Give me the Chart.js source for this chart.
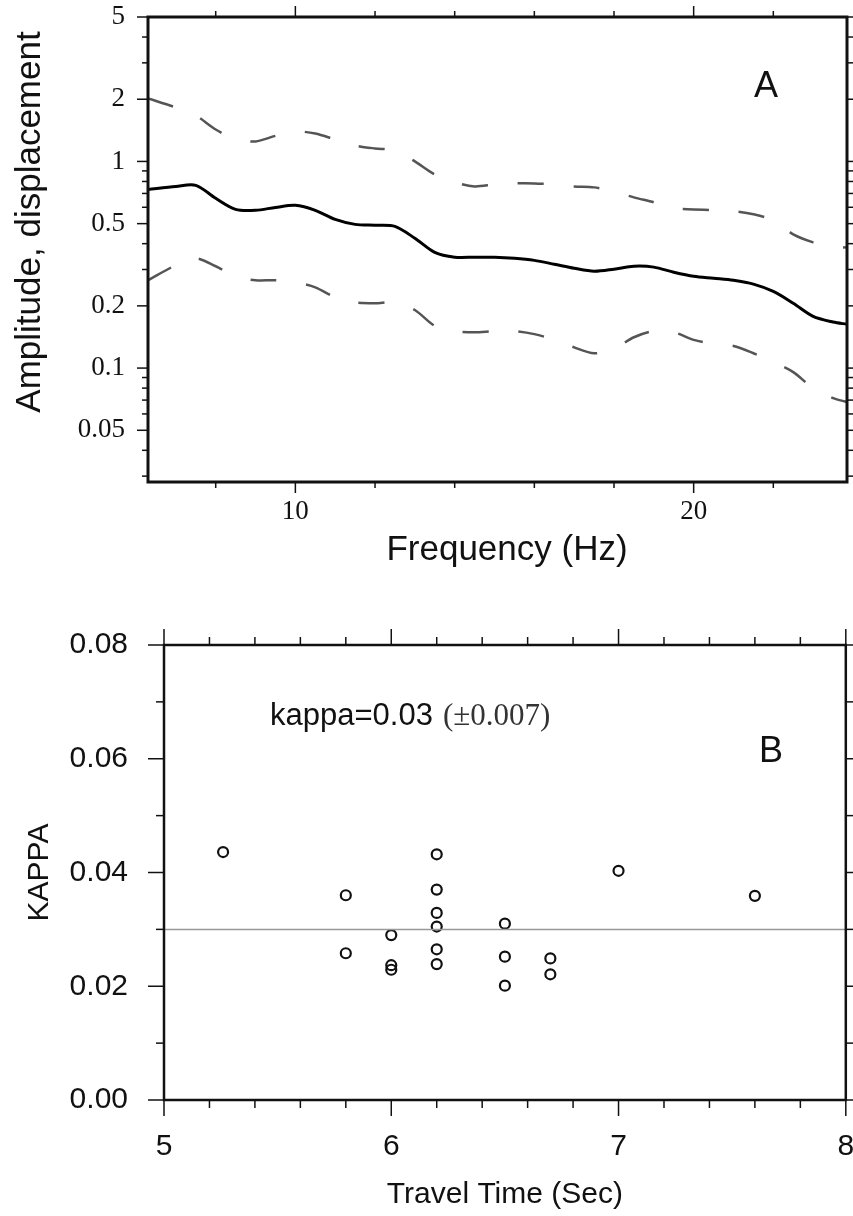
<!DOCTYPE html>
<html>
<head>
<meta charset="utf-8">
<script src="https://cdn.jsdelivr.net/npm/chart.js@4.4.1/dist/chart.umd.min.js"></script>
<style>
  body { margin: 0; background: #fff; }
  .wrap { position: relative; width: 853px; height: 1216px; }
  #chartA { position: absolute; left: 0; top: 0; }
  #chartB { position: absolute; left: 0; top: 590px; }
</style>
</head>
<body>
<div class="wrap">
  <canvas id="chartA" width="853" height="590"></canvas>
  <canvas id="chartB" width="853" height="626"></canvas>
</div>
<script>
// A: spectral amplitude vs frequency
const freqHz = [6.3, 7, 7.5, 8, 8.5, 9, 9.5, 10, 10.5, 11, 11.5, 12, 12.5, 13, 13.5, 14, 14.5, 15,
  15.5, 16, 16.5, 17, 17.5, 18, 18.5, 19, 19.5, 20, 20.5, 21, 21.5, 22, 22.5, 23, 23.5, 23.85]
const meanAmp = [0.732, 0.757, 0.766, 0.663, 0.586, 0.580, 0.599, 0.613, 0.580, 0.524, 0.496, 0.491,
  0.485, 0.425, 0.363, 0.344, 0.344, 0.344, 0.340, 0.332, 0.318, 0.304, 0.294, 0.301, 0.311, 0.308,
  0.291, 0.278, 0.272, 0.266, 0.255, 0.235, 0.206, 0.178, 0.167, 0.163]
const upperAmp = [2.015, 1.824, 1.668, 1.428, 1.28, 1.25, 1.33, 1.396, 1.365, 1.277, 1.195, 1.156,
  1.130, 1.0, 0.865, 0.792, 0.757, 0.774, 0.783, 0.783, 0.774, 0.757, 0.749, 0.716, 0.670, 0.634,
  0.593, 0.586, 0.580, 0.574, 0.555, 0.519, 0.444, 0.406, 0.384, 0.384]
const lowerAmp = [0.266, 0.315, 0.340, 0.311, 0.278, 0.266, 0.266, 0.260, 0.246, 0.220, 0.208, 0.206,
  0.208, 0.191, 0.160, 0.151, 0.149, 0.151, 0.151, 0.146, 0.137, 0.126, 0.118, 0.124, 0.141, 0.151,
  0.149, 0.137, 0.131, 0.128, 0.118, 0.107, 0.0956, 0.080, 0.0716, 0.0685]

const freqMajor = [10, 20]
const freqMinor = [8, 12, 14, 16, 18, 22]
const ampMajor = [0.05, 0.1, 0.2, 0.5, 1, 2, 5]
const ampMinor = [0.03, 0.04, 0.06, 0.07, 0.08, 0.09, 0.3, 0.4, 0.6, 0.7, 0.8, 0.9, 3, 4]

// B: kappa vs travel time
const travelTime = [5.26, 5.8, 5.8, 6.0, 6.0, 6.0, 6.2, 6.2, 6.2, 6.2, 6.2, 6.2, 6.5, 6.5, 6.5, 6.7, 6.7, 7.0, 7.6]
const kappa = [0.0436, 0.036, 0.0258, 0.029, 0.0237, 0.0229, 0.0432, 0.037, 0.0329, 0.0305, 0.0265,
  0.0239, 0.031, 0.0252, 0.0201, 0.0249, 0.0221, 0.0403, 0.0359]
const kappaMean = 0.03

const timeMajor = [5, 6, 7, 8]
const timeMinor = [5.2, 5.4, 5.6, 5.8, 6.2, 6.4, 6.6, 6.8, 7.2, 7.4, 7.6, 7.8]
const kappaMajor = [0, 0.02, 0.04, 0.06, 0.08]
const kappaMinor = [0.01, 0.03, 0.05, 0.07]

const SANS = 'Liberation Sans'
const SERIF = 'Liberation Serif'

const toXY = (xs, ys) => xs.map((x, i) => ({ x: x, y: ys[i] }))

// frame + tick marks on all four sides
const frameTicks = {
  id: 'frameTicks',
  afterDraw(chart, args, o) {
    const { ctx, chartArea: a, scales: { x, y } } = chart
    const seg = (x1, y1, x2, y2) => { ctx.beginPath(); ctx.moveTo(x1, y1); ctx.lineTo(x2, y2); ctx.stroke() }
    ctx.save()
    ctx.strokeStyle = '#111'
    ctx.lineWidth = o.tickWidth
    const xt = (vals, len) => vals.forEach(v => {
      const p = x.getPixelForValue(v)
      seg(p, a.bottom, p, a.bottom + len)
      seg(p, a.top, p, a.top - len)
    })
    const yt = (vals, len) => vals.forEach(v => {
      const p = y.getPixelForValue(v)
      seg(a.left, p, a.left - len, p)
      seg(a.right, p, a.right + len, p)
    })
    xt(o.xMajor, o.major); xt(o.xMinor, o.minor)
    yt(o.yMajor, o.major); yt(o.yMinor, o.minor)
    ctx.lineWidth = o.frameWidth
    ctx.strokeRect(a.left, a.top, a.right - a.left, a.bottom - a.top)
    ctx.restore()
  }
}

// free text on the canvas
const notes = {
  id: 'notes',
  afterDraw(chart, args, o) {
    const ctx = chart.ctx
    o.items.forEach(t => {
      ctx.save()
      ctx.font = t.size + 'px "' + t.family + '"'
      ctx.fillStyle = t.color || '#111'
      ctx.textAlign = t.align || 'center'
      ctx.textBaseline = t.baseline || 'middle'
      ctx.translate(t.x, t.y)
      if (t.rotate) ctx.rotate(t.rotate)
      ctx.fillText(t.text, 0, 0)
      ctx.restore()
    })
  }
}

const fixTicks = list => scale => { scale.ticks = list.map(v => ({ value: v })) }
const noPad = s => { s.paddingLeft = 0; s.paddingRight = 0; s.paddingTop = 0; s.paddingBottom = 0 }

new Chart(document.getElementById('chartA'), {
  type: 'line',
  data: {
    datasets: [
      { data: toXY(freqHz, upperAmp), borderColor: '#555', borderWidth: 2.5, borderDash: [26, 30], pointRadius: 0, tension: 0.3 },
      { data: toXY(freqHz, meanAmp), borderColor: '#000', borderWidth: 3, pointRadius: 0, tension: 0.3 },
      { data: toXY(freqHz, lowerAmp), borderColor: '#555', borderWidth: 2.5, borderDash: [26, 30], pointRadius: 0, tension: 0.3 }
    ]
  },
  options: {
    responsive: false,
    animation: false,
    layout: { padding: { top: 17, right: 6, left: 0, bottom: 0 } },
    plugins: {
      legend: { display: false },
      tooltip: { enabled: false },
      frameTicks: { xMajor: freqMajor, xMinor: freqMinor, yMajor: ampMajor, yMinor: ampMinor, major: 11, minor: 6, tickWidth: 1.5, frameWidth: 3 },
      notes: {
        items: [
          { text: 'Amplitude, displacement', x: 30, y: 222, size: 35, family: SANS, rotate: -Math.PI / 2 },
          { text: 'Frequency (Hz)', x: 507, y: 550, size: 35, family: SANS },
          { text: 'A', x: 766, y: 87, size: 36, family: SANS }
        ]
      }
    },
    scales: {
      x: {
        type: 'linear', min: 6.3, max: 23.85,
        grid: { display: false, drawTicks: false }, border: { display: false },
        afterBuildTicks: fixTicks(freqMajor),
        afterFit: s => { s.height = 108; noPad(s) },
        ticks: { font: { family: SERIF, size: 27 }, color: '#111', padding: 14, autoSkip: false, maxRotation: 0, callback: v => String(v) }
      },
      y: {
        type: 'logarithmic', min: 0.0281, max: 5,
        grid: { display: false, drawTicks: false }, border: { display: false },
        afterBuildTicks: fixTicks(ampMajor),
        afterFit: s => { s.width = 148; noPad(s) },
        ticks: { font: { family: SERIF, size: 27 }, color: '#111', padding: 23, autoSkip: false, callback: v => String(v) }
      }
    }
  },
  plugins: [frameTicks, notes]
})

new Chart(document.getElementById('chartB'), {
  type: 'scatter',
  data: {
    datasets: [
      { type: 'line', data: [{ x: 5, y: kappaMean }, { x: 8, y: kappaMean }], borderColor: '#999', borderWidth: 1.5, pointRadius: 0 },
      { data: toXY(travelTime, kappa), pointStyle: 'circle', pointRadius: 5, borderWidth: 2.2, borderColor: '#111', backgroundColor: 'rgba(255,255,255,0)' }
    ]
  },
  options: {
    responsive: false,
    animation: false,
    layout: { padding: { top: 55, right: 6, left: 0, bottom: 0 } },
    plugins: {
      legend: { display: false },
      tooltip: { enabled: false },
      frameTicks: { xMajor: timeMajor, xMinor: timeMinor, yMajor: kappaMajor, yMinor: kappaMinor, major: 16, minor: 8, tickWidth: 1.5, frameWidth: 2.5 },
      notes: {
        items: [
          { text: 'kappa=0.03', x: 270, y: 135, size: 31, family: SANS, align: 'left', baseline: 'alphabetic' },
          { text: '(\u00b10.007)', x: 443, y: 135, size: 31, family: SERIF, color: '#333', align: 'left', baseline: 'alphabetic' },
          { text: 'B', x: 771, y: 162, size: 36, family: SANS }
        ]
      }
    },
    scales: {
      x: {
        type: 'linear', min: 5, max: 8,
        grid: { display: false, drawTicks: false }, border: { display: false },
        afterBuildTicks: fixTicks(timeMajor),
        afterFit: s => { s.height = 116; noPad(s) },
        ticks: { font: { family: SANS, size: 30 }, color: '#111', padding: 29, autoSkip: false, maxRotation: 0, callback: v => String(v) },
        title: { display: true, text: 'Travel Time (Sec)', font: { family: SANS, size: 30 }, color: '#111', padding: { top: 0, bottom: 3 } }
      },
      y: {
        min: 0, max: 0.08,
        grid: { display: false, drawTicks: false }, border: { display: false },
        afterBuildTicks: fixTicks(kappaMajor),
        afterFit: s => { s.width = 164; noPad(s) },
        ticks: { font: { family: SANS, size: 30 }, color: '#111', padding: 36, autoSkip: false, callback: v => v.toFixed(2) },
        title: { display: true, text: 'KAPPA', font: { family: SANS, size: 30 }, color: '#111', padding: { top: 22, bottom: 0 } }
      }
    }
  },
  plugins: [frameTicks, notes]
})
</script>
</body>
</html>
